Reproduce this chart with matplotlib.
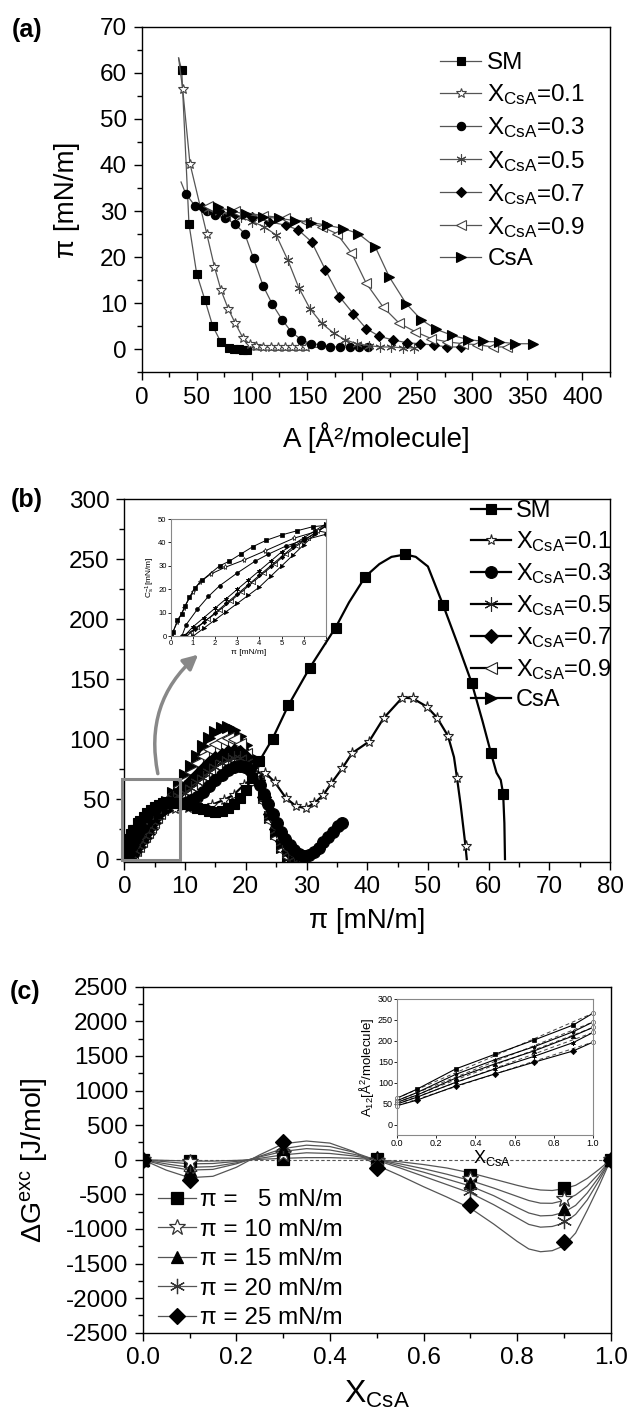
import matplotlib
matplotlib.use('Agg')
import matplotlib.pyplot as plt
from matplotlib.lines import Line2D
from matplotlib.patches import Rectangle, FancyArrowPatch
from matplotlib.ticker import MultipleLocator, FormatStrFormatter

plt.rcParams['font.family'] = ['Liberation Sans', 'DejaVu Sans']
plt.rcParams['mathtext.default'] = 'regular'
plt.rcParams['axes.unicode_minus'] = False

W, H = 629, 1414

# ---------------- (a) pi-A isotherms ----------------
a_sm_A = [33.5, 36.3, 42.9, 49.9, 57.5, 64.5, 72, 79.5, 84, 88, 92, 96, 120, 150]
a_sm_p = [63.2, 60.6, 27.2, 16.4, 10.6, 5.0, 1.5, 0.3, 0.1, 0.0, -0.1, -0.1, -0.2, -0.2]
a_x1_A = [33.5, 37.2, 43.8, 59, 66, 72, 78.5, 85, 91.8, 98.3, 104, 110.5, 117, 123.5, 130, 136.5, 143, 149.5, 160]
a_x1_p = [63.2, 56.4, 40.3, 25.1, 17.9, 12.8, 8.8, 5.6, 2.5, 1.1, 0.6, 0.5, 0.5, 0.5, 0.5, 0.5, 0.5, 0.5, 0.4]
a_x3_A = [35.7, 39.9, 48.4, 59, 66.5, 76, 84.5, 93.5, 101.5, 110.3, 118.5, 127.5, 135.7, 144.7, 153.4, 162.4,
          170.6, 179.7, 188.7, 197, 205]
a_x3_p = [36.3, 33.8, 31.1, 30.1, 29.1, 28.4, 27.2, 25.1, 19.7, 13.7, 9.8, 6.4, 3.8, 2.1, 1.2, 1.0, 0.5, 0.5, 0.5, 0.5, 0.5]
a_x5_A = [60, 70, 80, 90, 100.5, 111, 122, 132.7, 142.5, 152.7, 163.5, 174.3, 184.4, 195.2, 206, 216.5, 226.7, 237.5, 247.3]
a_x5_p = [30.5, 29.8, 29.2, 28.6, 27.7, 26.6, 24.8, 19.3, 13.4, 8.8, 5.6, 3.5, 2.1, 1.2, 0.8, 0.5, 0.5, 0.3, 0.3]
a_x7_A = [55, 70, 85, 100, 115.5, 130.7, 142.2, 154.2, 166.8, 179.5, 192.1, 203.7, 215.7, 228.4, 241, 253, 265.3, 277.3, 290]
a_x7_p = [30.8, 30.0, 29.3, 28.6, 27.7, 26.9, 25.9, 23.3, 17.2, 11.4, 7.7, 4.5, 2.8, 2.0, 1.4, 1.2, 0.9, 0.5, 0.5]
a_x9_A = [60, 85, 110, 130, 148.7, 163.2, 177, 190.4, 203.8, 219.3, 233.9, 248.4, 262.9, 277.4, 291.9, 304.6, 318.4, 331.9]
a_x9_p = [31, 30, 29, 28.5, 27.7, 26.6, 25.1, 20.9, 14.3, 9.1, 5.6, 3.8, 2.3, 1.6, 1.2, 1.0, 0.5, 0.5]
a_csa_A = [68.8, 81.5, 94.9, 110.5, 125, 139.5, 154, 168.5, 183, 196.5, 212, 224.7, 240, 253.7, 267.5, 282, 296.5,
           310, 324.5, 339, 355.3]
a_csa_p = [30.8, 30.0, 29.3, 28.7, 28.4, 27.9, 27.5, 26.9, 26.2, 25.1, 22.2, 15.7, 9.9, 6.4, 4.3, 3.0, 2.1, 1.7, 1.6, 1.2, 1.2]

# ---------------- (b) compression modulus ----------------
b_sm_p = [0, 0.12, 0.3, 0.5, 0.65, 0.84, 1.1, 1.43, 2.2, 2.64, 3.15, 3.7, 4.3, 5.0, 5.7, 6.4, 7.2, 8, 9, 10, 11, 12,
          13, 14, 15, 16, 17, 18, 19, 20, 21, 22.2, 24.4, 27.0, 30.5, 32.5, 34.8, 37.0, 39.7, 42.0, 44.0, 46.3, 48.0,
          50.0, 52.5, 55.0, 57.2, 59.0, 60.4, 61.3, 62.0, 62.4, 62.6, 62.7]
b_sm_c = [0, 2, 7, 9.5, 13, 16.6, 20.7, 24, 30, 32, 35, 38.2, 40.9, 43.2, 45, 46.7, 47.5, 47, 46.5, 46, 45, 43, 41.5,
          40, 39.5, 40.5, 42.5, 46, 51, 58, 68, 81.4, 100.3, 128.1, 159.2, 175, 193.1, 214, 235.6, 246, 252, 254, 252,
          244, 211.9, 178, 147.2, 115, 88.3, 72, 66, 54.2, 30, 0]
b_sm_marks = [22.2, 24.4, 27.0, 30.5, 34.8, 39.7, 46.3, 52.5, 57.2, 60.4, 62.4]
b_x1_p = [0, 0.3, 0.6, 1.0, 1.3, 1.8, 2.45, 3.3, 4.25, 5.55, 6.65, 8.4, 10.4, 12.4, 14.4, 16.4, 18.0, 19.7, 21.7,
          23.2, 24.8, 26.6, 28.3, 29.9, 31.3, 32.8, 34.1, 35.9, 37.5, 40.3, 42.7, 45.8, 47.5, 49.8, 51.5, 53.3, 54.3,
          54.8, 55.4, 56.2, 56.4]
b_x1_c = [0, 6, 12, 19, 23, 26.5, 29.4, 32.5, 36.4, 41.8, 44.9, 41.7, 42.5, 43.5, 45.3, 49.4, 53.6, 61.9, 70, 72,
          64, 51, 44, 42.5, 46.7, 53.6, 63.3, 75.8, 88.3, 98, 117.5, 134.7, 134, 127.2, 118, 102.8, 85, 67.5, 45,
          10.6, 0]
b_x1_nomark = [54.3, 55.4, 56.4]
b_x3_p = [0.5, 0.7, 1.2, 1.7, 2.2, 3.0, 3.8, 4.4, 5.2, 6.0, 7.0, 8, 9, 10, 11, 12, 13, 14, 15, 16, 17, 18, 19, 19.8,
          20.7, 21.5, 22.3, 23, 23.7, 24.4, 25.1, 25.8, 26.5, 27.2, 28, 28.8, 29.6, 30.4, 31.2, 32, 32.8, 33.6, 34.4,
          35.2, 35.8]
b_x3_c = [0, 5, 11.5, 17, 21.5, 27, 32, 35, 38.5, 41, 43.5, 45, 46, 47, 49, 52, 56, 61, 66, 70, 74, 76.5, 77.5, 77,
          74, 69, 62, 54, 46, 38, 30, 23, 17, 12, 7.5, 4.5, 3, 3.5, 6, 9.5, 14, 18.5, 23, 27.5, 30.5]
b_x5_p = [0.6, 1, 1.5, 2, 2.5, 3, 3.5, 4, 4.5, 5, 5.5, 6, 6.5, 7, 8, 9, 10, 11, 12, 13, 14, 15, 16, 17, 18, 19, 20,
          21, 22, 23, 24, 25, 26, 27, 28, 28.8]
b_x5_c = [0, 4, 8, 12, 16, 20, 24, 28, 32, 36, 39, 42, 45, 48, 51, 53, 55, 59, 64, 68, 73, 77, 80, 83, 84, 84, 81,
          74, 64, 51, 37, 24, 14, 6, 2, 0]
b_x7_p = [0.7, 1.1, 1.5, 2, 2.5, 3, 3.5, 4, 4.5, 5, 5.5, 6, 6.5, 7, 8, 9, 10, 11, 12, 13, 14, 15, 16, 17, 18, 19,
          20, 21, 22, 23, 24, 25, 26, 27, 28, 28.5]
b_x7_c = [0, 3, 6, 10, 14, 18, 22, 26, 30, 34, 38, 41, 44, 47, 52, 56, 60, 65, 70, 75, 80, 84, 87, 89, 90, 89, 85,
          78, 66, 52, 38, 25, 15, 7, 2, 0]
b_x9_p = [0.5, 0.9, 1.2, 1.7, 2.2, 2.7, 3.2, 3.7, 4.2, 4.7, 5.2, 5.7, 6.2, 7, 8, 9, 10, 11, 12, 13, 14, 15, 16, 17,
          18, 19, 20, 21, 22, 23, 24, 25, 26, 27, 27.8]
b_x9_c = [0, 2, 4, 7.5, 11, 15, 19, 23, 27, 31, 35, 38.5, 42, 47, 54, 60, 66, 73, 80, 86, 92, 96, 99, 101, 100, 96,
          88, 78, 64, 48, 32, 18, 8, 2, 0]
b_csa_p = [1.0, 1.5, 2, 2.5, 3, 3.5, 4, 4.5, 5, 5.5, 6, 6.5, 7, 8, 9, 10, 11, 12, 13, 14, 15, 16, 17, 18, 19, 20, 21,
           22, 23, 24, 25, 26, 27, 27.7]
b_csa_c = [0, 3.5, 7, 10.5, 14, 17.5, 21, 25.5, 30, 34.5, 39, 43.5, 48, 55, 62, 70, 78, 86, 94, 101, 106, 109, 110,
           108, 103, 95, 85, 70, 52, 35, 22, 10, 3, 0]

# ---------------- (c) excess free energy ----------------
c_x = [0, 0.1, 0.3, 0.5, 0.7, 0.9, 1.0]
c_g5 = [0, -15, 10, 10, -222, -410, 0]
c_g10 = [0, -39, 82, -14, -280, -569, 0]
c_g15 = [0, -150, 154, 34, -342, -714, 0]
c_g20 = [0, -207, 202, -14, -448, -892, 0]
c_g25 = [0, -294, 251, -125, -651, -1196, 0]
# fitted curves
c_fx = [0, .05, .1, .15, .2, .25, .3, .35, .4, .45, .5, .55, .6, .65, .7, .75, .8, .825, .85, .875, .9, .925,
        .95, .975, 1.0]
c_f5 = [0, -10, -20, -20, -10, 5, 20, 30, 30, 20, 0, -30, -70, -120, -190, -280, -370, -410, -438, -445, -420,
        -370, -270, -140, 0]
c_f10 = [0, -30, -60, -55, -25, 20, 70, 100, 90, 55, 0, -60, -130, -210, -300, -410, -530, -590, -628, -630, -590,
         -510, -380, -200, 0]
c_f15 = [0, -60, -110, -100, -45, 40, 120, 160, 140, 80, 0, -90, -180, -280, -380, -520, -690, -770, -812, -805,
         -760, -660, -480, -250, 0]
c_f20 = [0, -90, -150, -140, -60, 50, 160, 210, 190, 110, -10, -120, -240, -360, -480, -650, -840, -935, -975,
         -965, -915, -790, -580, -300, 0]
c_f25 = [0, -150, -260, -240, -110, 70, 230, 270, 240, 120, -80, -230, -390, -540, -700, -930, -1180, -1290,
         -1330, -1315, -1245, -1060, -730, -380, 0]
# inset: mean molecular area
ci_x = [0, 0.1, 0.3, 0.5, 0.7, 0.9, 1.0]
ci_a5 = [63, 84, 133, 168, 202, 238, 266]
ci_a10 = [57, 76, 120, 155, 186, 222, 245]
ci_a15 = [53, 70, 111, 145, 176, 212, 232]
ci_a20 = [49, 65, 101, 133, 163, 196, 220]
ci_a25 = [45, 58, 92, 121, 149, 176, 197]

mix = r'X$_{CsA}$'
a_labels = ['SM', mix + '=0.1', mix + '=0.3', mix + '=0.5', mix + '=0.7', mix + '=0.9', 'CsA']
c_labels = ['π =   5 mN/m', 'π = 10 mN/m', 'π = 15 mN/m', 'π = 20 mN/m', 'π = 25 mN/m']

# marker styles: (marker, face, size scale)
styles = [('s', 'k', 1.0), ('*', 'w', 1.3), ('o', 'k', 1.0), ((6, 2, 0), 'none', 1.2),
          ('D', 'k', 0.8), ('<', 'w', 1.1), ('>', 'k', 1.1)]

TICK_FS = 17.5
LEG_FS = 17.5


def px_rect(l, t, r, b):
    return [l / W, 1 - b / H, (r - l) / W, (b - t) / H]


def style_axes(ax, fs=TICK_FS, major=6, minor=3.5):
    for s in ax.spines.values():
        s.set_linewidth(1.0)
    ax.tick_params(which='both', direction='out', top=False, right=False, width=1.0)
    ax.tick_params(which='major', length=major, labelsize=fs, pad=4.5)
    ax.tick_params(which='minor', length=minor)


fig = plt.figure(figsize=(W / 100, H / 100), dpi=100)

# ======== panel (a) ========
ax = fig.add_axes(px_rect(141.7, 26.7, 610, 372.3))
a_data = [(a_sm_A, a_sm_p, range(1, 12)), (a_x1_A, a_x1_p, range(1, 18)), (a_x3_A, a_x3_p, range(1, 21)),
          (a_x5_A, a_x5_p, None), (a_x7_A, a_x7_p, None), (a_x9_A, a_x9_p, None), (a_csa_A, a_csa_p, None)]
for (xs, ys, me), (m, fc, sc), lab in zip(a_data, styles, a_labels):
    ec = '#444444' if fc in ('w', 'none') else 'k'
    ax.plot(xs, ys, '-', color='#555555', lw=0.9, marker=m, ms=6 * sc, mfc=fc, mec=ec, mew=0.8,
            markevery=list(me) if me is not None else None, label=lab)
ax.set_xlim(0, 425)
ax.set_ylim(-5, 70)
ax.xaxis.set_major_locator(MultipleLocator(50))
ax.xaxis.set_minor_locator(MultipleLocator(25))
ax.yaxis.set_major_locator(MultipleLocator(10))
ax.yaxis.set_minor_locator(MultipleLocator(5))
style_axes(ax)
ax.legend(loc='upper left', bbox_to_anchor=(440 / W, 1 - 52 / H), bbox_transform=fig.transFigure,
          frameon=False, fontsize=LEG_FS, handlelength=1.7, handletextpad=0.25, labelspacing=0.34,
          borderpad=0, borderaxespad=0)
fig.text(27 / W, 1 - 30 / H, '(a)', fontsize=18, fontweight='bold', ha='center', va='center')
fig.text(67 / W, 1 - 200 / H, 'π [mN/m]', fontsize=20, rotation=90, ha='center', va='center')
fig.text(376 / W, 1 - 438 / H, 'A [Å²/molecule]', fontsize=20, ha='center', va='center')

# ======== panel (b) ========
ax = fig.add_axes(px_rect(124.4, 499.3, 610, 861.5))
sm_me = [i for i, p in enumerate(b_sm_p) if p <= 21 or p in b_sm_marks]
x1_me = [i for i, p in enumerate(b_x1_p) if p not in b_x1_nomark]
b_data = [(b_sm_p, b_sm_c, sm_me), (b_x1_p, b_x1_c, x1_me), (b_x3_p, b_x3_c, None), (b_x5_p, b_x5_c, None),
          (b_x7_p, b_x7_c, None), (b_x9_p, b_x9_c, None), (b_csa_p, b_csa_c, None)]
b_ms = [7, 8, 8.5, 8.5, 8.5, 8.5, 8.5]
order = [6, 5, 4, 3, 2, 1, 0]
handles = [None] * 7
for k in order:
    xs, ys, me = b_data[k]
    m, fc, sc = styles[k]
    ec = '#222222' if fc in ('w', 'none') else 'k'
    msz = b_ms[k] * (1.0 if k < 2 else sc)
    ln, = ax.plot(xs, ys, '-', color='k', lw=1.6, marker=m, ms=msz, mfc=fc, mec=ec, mew=0.8,
                  markevery=me, label=a_labels[k])
    handles[k] = ln
ax.set_xlim(0, 80)
ax.set_ylim(-2, 300)
ax.xaxis.set_major_locator(MultipleLocator(10))
ax.xaxis.set_minor_locator(MultipleLocator(5))
ax.yaxis.set_major_locator(MultipleLocator(50))
ax.yaxis.set_minor_locator(MultipleLocator(25))
style_axes(ax)
ax.legend(handles=handles, loc='upper left', bbox_to_anchor=(471 / W, 1 - 500 / H),
          bbox_transform=fig.transFigure, frameon=False, fontsize=17, handlelength=1.7,
          handletextpad=0.2, labelspacing=0.3, borderpad=0, borderaxespad=0)
ax.add_patch(Rectangle((-0.4, -0.5), 9.6, 67, fill=False, ec='#888888', lw=2.2, clip_on=False, zorder=5))
ax.add_patch(FancyArrowPatch((5.6, 69), (12.5, 172), connectionstyle='arc3,rad=-0.3', arrowstyle='-|>',
                             mutation_scale=22, color='#888888', lw=2.5, zorder=5))
fig.text(27 / W, 1 - 500 / H, '(b)', fontsize=18, fontweight='bold', ha='center', va='center')
fig.text(367 / W, 1 - 921 / H, 'π [mN/m]', fontsize=20, ha='center', va='center')

# inset (b)
ins = fig.add_axes(px_rect(170.7, 519, 326, 636.3))
for k in order:
    xs, ys, me = b_data[k]
    m, fc, sc = styles[k]
    ins.plot(xs, ys, '-', color='k', lw=0.7, marker=m, ms=2.8 * sc, mfc=fc, mec='k', mew=0.5)
ins.set_xlim(0, 7)
ins.set_ylim(0, 50)
ins.xaxis.set_major_locator(MultipleLocator(1))
ins.yaxis.set_major_locator(MultipleLocator(10))
ins.tick_params(direction='out', length=2, width=0.6, labelsize=5.5, pad=1)
for s in ins.spines.values():
    s.set_color('#888888')
    s.set_linewidth(0.8)
ins.set_xlabel('π [mN/m]', fontsize=6, labelpad=1)
ins.set_ylabel(r'C$_s^{-1}$[mN/m]', fontsize=6, labelpad=1)

# ======== panel (c) ========
ax = fig.add_axes(px_rect(142.7, 986.7, 610.7, 1332.7))
ax.axhline(0, color='#555555', lw=0.8, ls=(0, (3, 2)))
c_curves = [c_f5, c_f10, c_f15, c_f20, c_f25]
c_points = [c_g5, c_g10, c_g15, c_g20, c_g25]
c_styles = [('s', 'k', 8.5), ('*', 'w', 12), ('^', 'k', 9), ((6, 2, 0), 'none', 11), ('D', 'k', 8)]
c_handles = []
for fy, gy, (m, fc, ms), lab in zip(c_curves, c_points, c_styles, c_labels):
    ax.plot(c_fx, fy, '-', color='#555555', lw=0.9)
    ec = '#333333' if fc in ('w', 'none') else 'k'
    ax.plot(c_x, gy, ls='none', marker=m, ms=ms, mfc=fc, mec=ec, mew=0.9, zorder=4)
    c_handles.append(Line2D([], [], color='#555555', lw=0.9, marker=m, ms=ms, mfc=fc, mec=ec, mew=0.9))
ax.set_xlim(0, 1)
ax.set_ylim(-2500, 2500)
ax.xaxis.set_major_locator(MultipleLocator(0.2))
ax.xaxis.set_minor_locator(MultipleLocator(0.1))
ax.yaxis.set_major_locator(MultipleLocator(500))
ax.yaxis.set_minor_locator(MultipleLocator(250))
ax.xaxis.set_major_formatter(FormatStrFormatter('%.1f'))
style_axes(ax)
ax.legend(c_handles, c_labels, loc='upper left', bbox_to_anchor=(158 / W, 1 - 1189 / H),
          bbox_transform=fig.transFigure, frameon=False, fontsize=LEG_FS, handlelength=1.55,
          handletextpad=0.17, labelspacing=0.31, borderpad=0, borderaxespad=0)
fig.text(25 / W, 1 - 992 / H, '(c)', fontsize=18, fontweight='bold', ha='center', va='center')
fig.text(34 / W, 1 - 1160 / H, r'ΔG$^{exc}$ [J/mol]', fontsize=20.5, rotation=90, ha='center', va='center')
fig.text(377 / W, 1 - 1394 / H, r'X$_{CsA}$', fontsize=23, ha='center', va='center')

# inset (c)
ins = fig.add_axes(px_rect(397, 999, 593, 1135))
ci_series = [ci_a5, ci_a10, ci_a15, ci_a20, ci_a25]
ci_marks = ['s', '*', '^', (6, 2, 0), 'D']
for ys, m in zip(ci_series, ci_marks):
    ins.plot([ci_x[0], ci_x[-1]], [ys[0], ys[-1]], '--', color='#444444', lw=0.7, dashes=(4, 3))
    ins.plot(ci_x, ys, '-', color='k', lw=0.8, marker=m, ms=3.2, mfc='k', mec='k', mew=0.5,
             markevery=[1, 2, 3, 4, 5])
    ins.plot([ci_x[0], ci_x[-1]], [ys[0], ys[-1]], ls='none', marker='o', ms=3, mfc='w', mec='#555555',
             mew=0.5, clip_on=False)
ins.set_xlim(0, 1)
ins.set_ylim(-25, 300)
ins.xaxis.set_major_locator(MultipleLocator(0.2))
ins.yaxis.set_major_locator(MultipleLocator(50))
ins.xaxis.set_major_formatter(FormatStrFormatter('%.1f'))
ins.tick_params(direction='out', length=2, width=0.6, labelsize=6.5, pad=1)
for s in ins.spines.values():
    s.set_color('#888888')
    s.set_linewidth(0.8)
ins.set_ylabel(r'A$_{12}$[Å$^2$/molecule]', fontsize=9.5, labelpad=1)
fig.text(492 / W, 1 - 1158 / H, r'X$_{CsA}$', fontsize=13, ha='center', va='center')

fig.savefig('out.png', dpi=100)
